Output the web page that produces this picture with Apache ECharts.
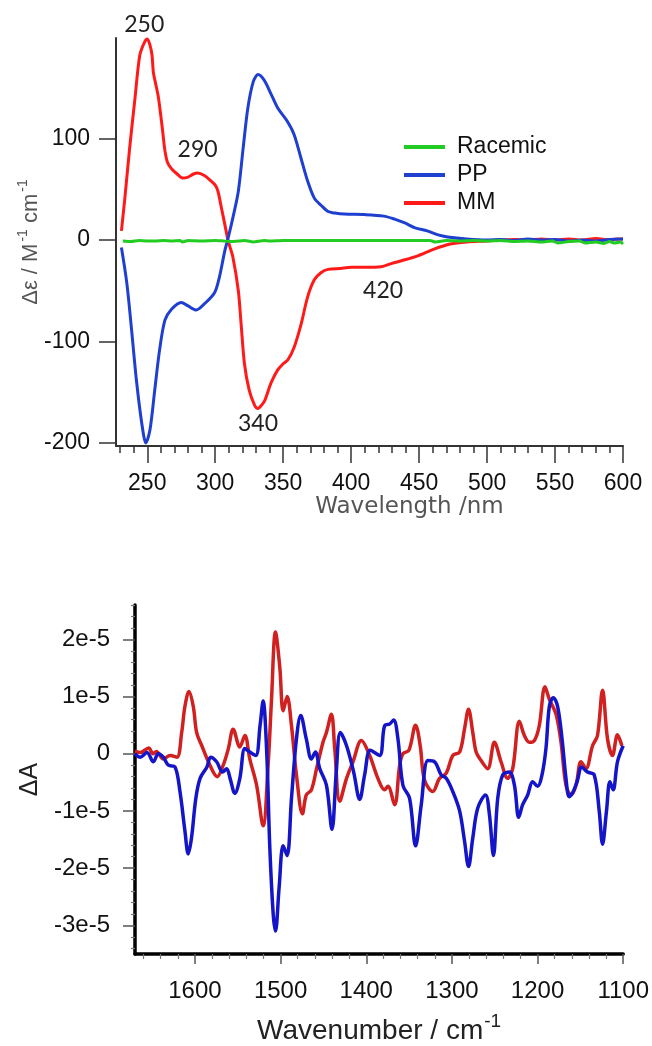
<!DOCTYPE html>
<html><head><meta charset="utf-8">
<script src="https://cdn.jsdelivr.net/npm/echarts@6/dist/echarts.min.js"></script>
<style>html,body{margin:0;padding:0;background:#fff}#c{width:652px;height:1046px}</style>
</head><body><div id="c"></div>
<script>
// ---------- Top panel: ECD spectra (Δε vs wavelength, nm) ----------
const mmWavelength = [231,233.5,237,241,244.5,248,250,252,253.5,254.5,256,258,260,261.5,263,265,268,272,276,280,284,287,292,297,300,302,304.5,308,309.5,313,317,319,321.5,325,329,331.5,334,336.5,341,346,350,353.5,358,363,368,373,378,383,392,400,410,422,430,437,449,461,473,485,500,510,520,530,540,550,560,570,580,590,595,600];
const mmDelta      = [9,41,90,140,182,195,198,192,182,165,155,142,122,105,88,76,70,65,61,62,65,66,63.5,58,54,48,32,9,-1,-17,-50,-82,-122,-148,-163,-166,-163,-158,-141,-128,-122,-118,-106,-84,-56,-39,-32,-29,-28,-27,-27,-26.5,-23,-20.5,-15.7,-9,-4,-2,-1,0,0.5,0,1,0,1,0,1.5,0,1,1];

const ppWavelength = [231,235,238.5,242,246,249,252,255.5,259,263,268,275,280,286,292,299.5,303,307,309.5,313,317,320.5,324,328,331.5,336,341,346,353,358,363,368,373,378,383,388,395,410,424,432,439,447,456,464,471,485,500,510,520,530,540,550,560,570,580,590,600];
const ppDelta      = [-7.5,-43,-89,-138,-181,-200,-187,-148,-109,-79,-68,-61.5,-65,-69,-63,-52,-37,-11,2,22,48,90,130,156,163,157.5,144,130,117,104,81,58,41,34,28,26.5,25.5,25,23.5,20.5,17,12,9,5,3,1,0,0.5,-0.5,1,0,0.5,-1,0,-1,0.5,1];

const racWavelength = [232,238,244,250,256,262,268,274,276,280,290,300,306,312,318,322,328,336,340,350,360,380,400,420,440,458,462,470,480,490,500,510,520,530,540,548,552,560,568,572,580,586,590,594,598,600];
const racDelta      = [-1,-1.5,-0.5,-1,-1,-0.5,-1,-0.5,-2,-0.5,-1,-0.5,-1,-1.5,-1,-0.5,-2,-0.5,-1,-0.5,-0.5,-0.5,-0.5,-0.5,-0.5,-0.5,-2,-0.5,-1,-0.5,-1,-0.5,-1.5,-1,-2,-1,-3,-1.5,-1,-3,-2,-3.5,-1.5,-3,-2,-4];

const topXMajorTicks = [250,300,350,400,450,500,550,600];
const topXMinorTicks = [230,240,260,270,280,290,310,320,330,340,360,370,380,390,410,420,430,440,460,470,480,490,510,520,530,540,560,570,580,590];
const topYTicks = [-200,-100,0,100];
const peakLabels = [
  {text:'250', wl:250,   val:198,   dx:-3, dy:-14},
  {text:'290', wl:287,   val:66,    dx:0,  dy:-23},
  {text:'340', wl:331.5, val:-166,  dx:0,  dy:15},
  {text:'420', wl:422,   val:-26.5, dx:2,  dy:24}
];

// ---------- Bottom panel: VCD spectra (ΔA, in units of 1e-5, vs wavenumber) ----------
const redWavenumber = [1670,1664,1654,1649,1645,1637,1629,1621,1615.5,1611.7,1607,1602,1598,1592,1582.5,1574,1567,1561,1555.4,1547.6,1541.7,1536,1528,1520.4,1514.6,1510.6,1506,1501,1497,1492.4,1487.3,1481.5,1474.5,1470,1464,1458,1450.5,1446.5,1440.7,1436.8,1431,1423,1415.5,1405.7,1396,1386.4,1378.6,1374.7,1366.9,1361,1357.2,1350.2,1342.4,1337,1332,1322.3,1314.5,1306.6,1299,1291,1285.3,1280.6,1275.6,1271.7,1265.9,1258.2,1250.4,1242.6,1234.9,1229,1221.2,1215.4,1209.6,1203.7,1198,1191.3,1186.2,1178.4,1172.6,1166.8,1161,1155.1,1149.3,1143.5,1135.8,1130,1124.1,1118.3,1112.5,1106.7,1101.5];
const redDeltaA    = [0.05,0.02,0.1,0,0.04,-0.09,-0.03,-0.06,0.37,0.83,1.09,0.83,0.37,0.14,-0.2,-0.4,-0.2,0.09,0.43,0.12,0.32,-0.09,-0.55,-1.26,-0.2,0.95,2.13,1.52,0.75,1.0,0.49,-0.37,-1.05,-0.72,-0.63,-0.26,0.2,0.37,0.69,0.09,-0.83,-0.43,-0.14,0.23,-0.03,-0.43,-0.63,-0.57,-0.89,-0.2,0,0.06,0.5,0.14,-0.46,-0.66,-0.43,-0.34,-0.03,0.03,0.43,0.78,0.37,0.03,-0.12,-0.26,0.2,-0.14,-0.43,-0.26,0.57,0.32,0.2,0.23,0.49,1.17,0.95,0.69,0.2,-0.55,-0.72,-0.55,-0.14,-0.26,0.14,0.32,1.11,0.26,-0.03,0.33,0.14];

const blueWavenumber = [1670,1664,1656,1648.6,1642.8,1637,1631,1623.3,1617.5,1611.7,1607.8,1604,1599,1594,1586,1581.7,1574.7,1567.7,1563,1559,1553.4,1547.6,1541.7,1536,1529,1524,1520.4,1516.4,1512.6,1508.7,1506,1501.7,1497,1492.4,1487.3,1481.5,1476.5,1470,1464,1459.4,1454.3,1446.5,1440,1435,1430.2,1423,1414.7,1407.7,1401.9,1395.2,1384.4,1378.6,1372.7,1368,1363,1357.2,1349.4,1342.4,1335.8,1328,1320.3,1312.5,1306.6,1299,1291,1285.3,1280.6,1275.6,1269.8,1260.8,1256.2,1251.5,1246.5,1240.7,1232.9,1227,1222,1217.4,1211.5,1205.7,1199.9,1194.8,1190.2,1186.2,1181.6,1176.6,1171.4,1166.8,1163,1158.3,1153.3,1148.6,1141.6,1133.8,1128,1124.1,1119.5,1115.5,1111.7,1106.7,1100];
const blueDeltaA    = [0,-0.06,0.02,-0.14,0,-0.06,-0.2,-0.23,-0.66,-1.35,-1.75,-1.47,-0.78,-0.43,-0.23,-0.06,-0.14,-0.32,-0.26,-0.43,-0.69,-0.43,0.09,0.03,-0.03,0.49,0.92,0.09,-1.64,-2.79,-3.1,-2.33,-1.61,-1.78,-0.78,0.26,0.67,0.26,-0.09,0.03,-0.26,-0.55,-1.32,-0.32,0.37,0.14,-0.32,-0.8,-0.37,0.06,-0.03,0.49,0.52,0.59,0.26,-0.55,-0.78,-1.61,-0.89,-0.12,-0.14,-0.37,-0.43,-0.66,-1.0,-1.52,-1.97,-1.47,-0.95,-0.72,-1.06,-1.78,-0.78,-0.37,-0.32,-0.55,-1.11,-0.89,-0.72,-0.49,-0.57,-0.37,0.09,0.83,0.98,0.83,0.26,-0.43,-0.75,-0.66,-0.46,-0.23,-0.32,-0.37,-1.0,-1.58,-1.0,-0.49,-0.63,-0.14,0.14];

const botXMajorTicks = [1100,1200,1300,1400,1500,1600];
const botXMinorTicks = [1120,1140,1160,1180,1220,1240,1260,1280,1320,1340,1360,1380,1420,1440,1460,1480,1520,1540,1560,1580,1620,1640,1660];
const botYMajorTicks = [-3,-2,-1,0,1,2];
const botYMinorTicks = [-3.4,-3.2,-2.8,-2.6,-2.4,-2.2,-1.8,-1.6,-1.4,-1.2,-0.8,-0.6,-0.4,-0.2,0.2,0.4,0.6,0.8,1.2,1.4,1.6,1.8,2.2,2.4,2.6];

const zip = (xs, ys) => xs.map((x, i) => [x, ys[i]]);
const FONT = 'Liberation Sans';

const chart = echarts.init(document.getElementById('c'), null, {renderer: 'canvas'});

const topAxisLine = {onZero: false, lineStyle: {color: '#333', width: 2}};
const botAxisLine = {onZero: false, lineStyle: {color: '#000', width: 3.5}};
const hiddenLine = {show: false, onZero: false};

const option = {
  backgroundColor: '#fff',
  animation: false,
  grid: [
    {left: 116, right: 29, top: 38, height: 408},
    {left: 135, right: 28, top: 605, height: 352}
  ],
  legend: {
    data: ['Racemic', 'PP', 'MM'],
    orient: 'vertical',
    left: 399, top: 130,
    icon: 'rect', itemWidth: 41, itemHeight: 4, itemGap: 4,
    textStyle: {fontFamily: FONT, fontSize: 23, color: '#111', lineHeight: 24, padding: [0, 0, 0, 7]}
  },
  xAxis: [
    {gridIndex: 0, type: 'value', min: 227, max: 600, position: 'bottom',
     axisLine: topAxisLine,
     axisTick: {show: true, length: 17, lineStyle: {color: '#333', width: 1.5}, customValues: topXMajorTicks},
     axisLabel: {customValues: topXMajorTicks, fontFamily: FONT, fontSize: 23, color: '#111', margin: 26,
                 formatter: v => String(v)},
     splitLine: {show: false},
     name: 'Wavelength /nm', nameLocation: 'middle', nameGap: 46,
     nameTextStyle: {fontFamily: 'DejaVu Sans', fontSize: 23, color: '#555', padding: [0, 0, 0, 80]}},
    {gridIndex: 0, type: 'value', min: 227, max: 600, position: 'bottom',
     axisLine: hiddenLine,
     axisTick: {show: true, length: 7, lineStyle: {color: '#333', width: 1.5}, customValues: topXMinorTicks},
     axisLabel: {show: false}, splitLine: {show: false}},
    {gridIndex: 1, type: 'value', min: 1100, max: 1670, inverse: true, position: 'bottom',
     axisLine: botAxisLine,
     axisTick: {show: true, length: 10, lineStyle: {color: '#555', width: 1.5}, customValues: botXMajorTicks},
     axisLabel: {customValues: botXMajorTicks, fontFamily: FONT, fontSize: 24, color: '#111', margin: 25,
                 formatter: v => String(v)},
     splitLine: {show: false},
     name: '{a|Wavenumber / cm}{s|-1}', nameLocation: 'middle', nameGap: 58,
     nameTextStyle: {rich: {
       a: {fontFamily: FONT, fontSize: 28, color: '#222'},
       s: {fontFamily: FONT, fontSize: 19, color: '#222', padding: [0, 0, 19, 1]}
     }}},
    {gridIndex: 1, type: 'value', min: 1100, max: 1670, inverse: true, position: 'bottom',
     axisLine: hiddenLine,
     axisTick: {show: true, length: 5, lineStyle: {color: '#777', width: 1.2}, customValues: botXMinorTicks},
     axisLabel: {show: false}, splitLine: {show: false}}
  ],
  yAxis: [
    {gridIndex: 0, type: 'value', min: -203, max: 199, position: 'left',
     axisLine: {show: true, ...topAxisLine},
     axisTick: {show: true, length: 17, lineStyle: {color: '#333', width: 1.5}, customValues: topYTicks},
     axisLabel: {customValues: topYTicks, fontFamily: FONT, fontSize: 23, color: '#111', margin: 26},
     splitLine: {show: false},
     name: '{a|Δε / M}{s|-1}{a| cm}{s|-1}', nameLocation: 'middle', nameGap: 71, nameMoveOverlap: false,
     nameTextStyle: {rich: {
       a: {fontFamily: FONT, fontSize: 22, color: '#555'},
       s: {fontFamily: FONT, fontSize: 14, color: '#555', padding: [0, 0, 15, 2]}
     }}},
    {gridIndex: 1, type: 'value', min: -3.5, max: 2.6, position: 'left',
     axisLine: {show: true, ...botAxisLine},
     axisTick: {show: true, length: 12, lineStyle: {color: '#555', width: 1.5}, customValues: botYMajorTicks},
     axisLabel: {customValues: botYMajorTicks, fontFamily: FONT, fontSize: 24, color: '#111', margin: 25,
                 formatter: v => v === 0 ? '0' : v + 'e-5'},
     splitLine: {show: false},
     name: 'ΔA', nameLocation: 'middle', nameGap: 92,
     nameTextStyle: {fontFamily: FONT, fontSize: 25, color: '#222'}},
    {gridIndex: 1, type: 'value', min: -3.5, max: 2.6, position: 'left',
     axisLine: hiddenLine,
     axisTick: {show: true, length: 4, lineStyle: {color: '#777', width: 1.2}, customValues: botYMinorTicks},
     axisLabel: {show: false}, splitLine: {show: false}}
  ],
  series: [
    {name: 'MM', type: 'line', xAxisIndex: 0, yAxisIndex: 0, data: zip(mmWavelength, mmDelta),
     showSymbol: false, smooth: 0.3, lineStyle: {color: '#ff1a1a', width: 3}, itemStyle: {color: '#ff1a1a'},
     markPoint: {
       symbol: 'circle', symbolSize: 0, silent: true,
       label: {show: true, fontFamily: 'Lato', fontSize: 23, color: '#222', formatter: p => p.name},
       data: peakLabels.map(p => ({name: p.text, coord: [p.wl, p.val], label: {offset: [p.dx, p.dy]}}))
     }},
    {name: 'PP', type: 'line', xAxisIndex: 0, yAxisIndex: 0, data: zip(ppWavelength, ppDelta),
     showSymbol: false, smooth: 0.3, lineStyle: {color: '#1f3fd0', width: 3}, itemStyle: {color: '#1f3fd0'}},
    {name: 'Racemic', type: 'line', xAxisIndex: 0, yAxisIndex: 0, data: zip(racWavelength, racDelta),
     showSymbol: false, smooth: 0.2, lineStyle: {color: '#22cc22', width: 3}, itemStyle: {color: '#22cc22'}},
    {name: 'MM (VCD)', type: 'line', xAxisIndex: 2, yAxisIndex: 1, data: zip(redWavenumber, redDeltaA),
     showSymbol: false, smooth: 0.35, lineStyle: {color: '#d02020', width: 3.5}, itemStyle: {color: '#d02020'}},
    {name: 'PP (VCD)', type: 'line', xAxisIndex: 2, yAxisIndex: 1, data: zip(blueWavenumber, blueDeltaA),
     showSymbol: false, smooth: 0.35, lineStyle: {color: '#1414c8', width: 3.5}, itemStyle: {color: '#1414c8'}}
  ]
};
chart.setOption(option);
</script>
</body></html>
